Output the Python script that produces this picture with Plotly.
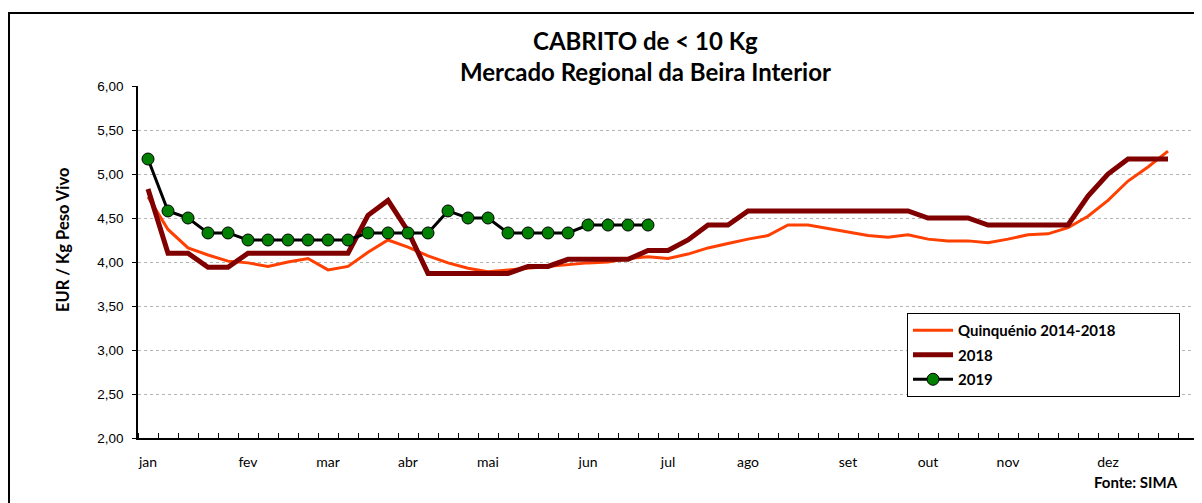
import plotly.graph_objects as go

weeks = list(range(1, 53))
month_weeks = [1, 6, 10, 14, 18, 23, 27, 31, 36, 40, 44, 49]
month_labels = ["jan", "fev", "mar", "abr", "mai", "jun", "jul", "ago", "set", "out", "nov", "dez"]

quinquenio = [4.74, 4.37, 4.16, 4.08, 4.01, 3.99, 3.95, 4.00, 4.04, 3.91,
              3.95, 4.11, 4.25, 4.17, 4.07, 3.99, 3.93, 3.89, 3.91, 3.93,
              3.95, 3.97, 3.99, 4.00, 4.04, 4.06, 4.04, 4.09, 4.16, 4.21,
              4.26, 4.30, 4.42, 4.42, 4.38, 4.34, 4.30, 4.28, 4.31, 4.26,
              4.24, 4.24, 4.22, 4.26, 4.31, 4.32, 4.39, 4.52, 4.70, 4.92,
              5.08, 5.26]

y2018 = [4.83, 4.10, 4.10, 3.94, 3.94, 4.10, 4.10, 4.10, 4.10, 4.10,
         4.10, 4.53, 4.70, 4.35, 3.87, 3.87, 3.87, 3.87, 3.87, 3.95,
         3.95, 4.03, 4.03, 4.03, 4.03, 4.13, 4.13, 4.25, 4.42, 4.42,
         4.58, 4.58, 4.58, 4.58, 4.58, 4.58, 4.58, 4.58, 4.58, 4.50,
         4.50, 4.50, 4.42, 4.42, 4.42, 4.42, 4.42, 4.75, 5.00, 5.17,
         5.17, 5.17]

y2019 = [5.17, 4.58, 4.50, 4.33, 4.33, 4.25, 4.25, 4.25, 4.25, 4.25,
         4.25, 4.33, 4.33, 4.33, 4.33, 4.58, 4.50, 4.50, 4.33, 4.33,
         4.33, 4.33, 4.42, 4.42, 4.42, 4.42]

FONT_C = "Lato, 'Open Sans', sans-serif"
FONT_A = "'Liberation Sans', Arial, sans-serif"
PAD = "\u00a0" * 15

fig = go.Figure()
fig.add_trace(go.Scatter(x=weeks, y=quinquenio, mode="lines", name="<b>Quinquénio 2014-2018</b>" + PAD,
                         line=dict(color="#FF4000", width=3), legendgroup="a"))
fig.add_trace(go.Scatter(x=weeks, y=y2018, mode="lines", name="<b>2018</b>",
                         line=dict(color="#800000", width=5), legendgroup="b"))
fig.add_trace(go.Scatter(x=weeks[:len(y2019)], y=y2019, mode="lines+markers", name="<b>2019</b>",
                         line=dict(color="#000000", width=3),
                         marker=dict(color="#008000", size=12, line=dict(color="#000000", width=1)),
                         legendgroup="c"))

fig.update_layout(
    width=1194, height=495,
    margin=dict(l=130, r=0, t=78, b=65),
    paper_bgcolor="white", plot_bgcolor="white",
    separators=", ",
    showlegend=True,
    legend=dict(x=(907 - 138) / 1064, y=(438 - 313) / 352, xanchor="left", yanchor="top",
                bordercolor="#000000", borderwidth=1, bgcolor="white",
                font=dict(family=FONT_C, size=15, color="#000000"),
                itemwidth=40, tracegroupgap=2),
    xaxis=dict(range=[0.5, 53.7], tickmode="array", tickvals=month_weeks, ticktext=month_labels,
               ticks="", showgrid=False, zeroline=False,
               showline=True, linecolor="#000000", linewidth=1.5,
               tickfont=dict(family=FONT_C, size=14, color="#000000"),
               ticklabelstandoff=10,
               minor=dict(ticks="inside", tick0=0.5, dtick=1, ticklen=5,
                          tickcolor="#000000", tickwidth=1, showgrid=False)),
    yaxis=dict(range=[2, 6], dtick=0.5, tick0=2, tickformat=".2f",
               showgrid=True, gridcolor="#b4b4b4", griddash="dot", gridwidth=1,
               zeroline=False, showline=True, linecolor="#000000", linewidth=1.5,
               ticks="outside", ticklen=4, tickcolor="#000000",
               tickfont=dict(family=FONT_A, size=13.5, color="#000000"),
               ticklabelstandoff=6),
    annotations=[
        dict(text="<b>CABRITO de < 10 Kg</b>", xref="paper", yref="paper",
             x=(645 - 138) / 1064, y=(438 - 40) / 352, showarrow=False,
             xanchor="center", yanchor="middle",
             font=dict(family=FONT_C, size=24, color="#000000")),
        dict(text="<b>Mercado Regional da Beira Interior</b>", xref="paper", yref="paper",
             x=(645 - 138) / 1064, y=(438 - 72) / 352, showarrow=False,
             xanchor="center", yanchor="middle",
             font=dict(family=FONT_C, size=24, color="#000000")),
        dict(text="<b>EUR / Kg Peso Vivo</b>", xref="paper", yref="paper",
             x=(63 - 138) / 1064, y=(438 - 240) / 352, textangle=-90,
             showarrow=False, xanchor="center", yanchor="middle",
             font=dict(family=FONT_C, size=16.5, color="#000000")),
        dict(text="<b>Fonte: SIMA</b>", xref="paper", yref="paper",
             x=(1180 - 138) / 1064, y=(438 - 482) / 352,
             showarrow=False, xanchor="right", yanchor="middle",
             font=dict(family=FONT_C, size=15, color="#000000")),
    ],
    shapes=[
        dict(type="rect", xref="paper", yref="paper",
             x0=(9 - 138) / 1064, x1=1.05, y0=-0.3, y1=(438 - 13) / 352,
             line=dict(color="#000000", width=2), fillcolor="rgba(0,0,0,0)", layer="below"),
    ],
)

fig.write_html("out.html")
